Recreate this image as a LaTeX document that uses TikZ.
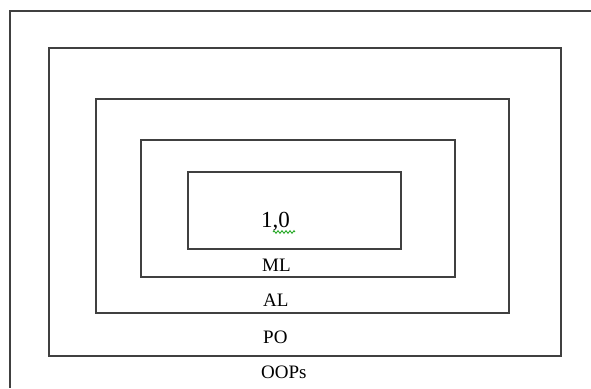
\documentclass[tikz,border=0pt]{standalone}
\usepackage{fontspec}
\setmainfont{Liberation Serif}
\usetikzlibrary{decorations.pathmorphing}
\definecolor{frame}{RGB}{64,64,64}
\definecolor{squig}{RGB}{40,170,40}
\begin{document}
\begin{tikzpicture}[x=1pt,y=-1pt,
  boxline/.style={draw=frame,line width=1.5pt},
  lbl/.style={anchor=base west,inner sep=0pt,font=\fontsize{19}{22}\selectfont}]
\useasboundingbox[fill=white] (0,0) rectangle (591,388);
% outer frame (runs off right and bottom)
\coordinate (ftr) at (591,11);
\coordinate (ftl) at (10,11);
\coordinate (fbl) at (10,388);
\draw[boxline] (ftr) -- (ftl) -- (fbl);
% nested boxes
\draw[boxline] (49,48) rectangle (561,356);
\draw[boxline] (96,99) rectangle (509,313);
\draw[boxline] (141,140) rectangle (455,277);
\draw[boxline] (188,172) rectangle (401,249);
% labels
\node[lbl,font=\fontsize{23}{26}\selectfont] (one) at (261,227) {1,0};
\node[lbl] (ml) at (262,271) {ML};
\node[lbl] (al) at (263,306) {AL};
\node[lbl] (po) at (263,343) {PO};
\node[lbl] (op) at (261,378) {OOPs};
% spelling squiggle
\coordinate (sqa) at (273,232);
\coordinate (sqb) at (295,232);
\draw[squig,line width=0.9pt,decorate,decoration={zigzag,amplitude=1.3pt,segment length=4pt}] (sqa) -- (sqb);
\end{tikzpicture}
\end{document}
